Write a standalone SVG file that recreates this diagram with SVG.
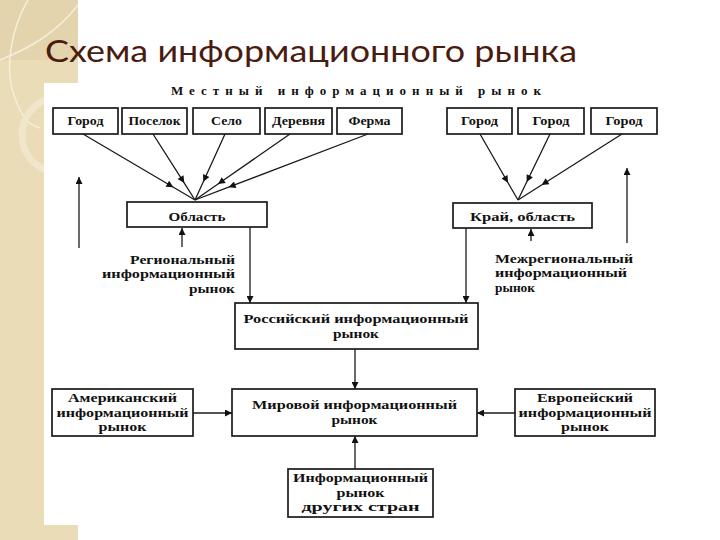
<svg xmlns="http://www.w3.org/2000/svg" width="720" height="540" viewBox="0 0 720 540">
<defs>
<style>
.bx{fill:#fff;stroke:#1a1a1a;stroke-width:1.7}
.ln{fill:none;stroke:#1a1a1a;stroke-width:1.3}
.t{font-family:"Liberation Serif","DejaVu Serif",serif;font-weight:bold;font-size:13px;fill:#111}
.s{font-family:"Liberation Serif","DejaVu Serif",serif;font-weight:bold;font-size:11.5px;fill:#111}
.h{font-family:"Liberation Serif","DejaVu Serif",serif;font-weight:bold;font-size:13px;fill:#111}
.m{text-anchor:middle}
.e{text-anchor:end}
.deco{fill:none;stroke:#f4eedb;stroke-width:1.5}
</style>
<marker id="ah" viewBox="0 0 10 10" refX="10" refY="5" markerWidth="9" markerHeight="7" markerUnits="userSpaceOnUse" orient="auto">
<path d="M0,0 L10,5 L0,10 z" fill="#111"/>
</marker>
</defs>
<rect width="720" height="540" fill="#fff"/>
<g id="background">
<rect x="0" y="0" width="78" height="540" fill="#e9dcb7"/>
<rect x="0" y="0" width="78" height="60" fill="#e3d4ad"/>
<path class="deco" d="M28,0 C10,30 5,70 14,95 C22,120 30,125 40,128"/>
<path class="deco" d="M0,60 C25,50 55,35 78,5"/>
<circle cx="60" cy="135" r="38" fill="none" stroke="#efe6cc" stroke-width="7"/>
<rect x="44" y="83" width="630" height="442" fill="#fff"/>
</g>
<text x="45" y="62" font-family="Lato,'Open Sans',sans-serif" font-size="31" fill="#4a1c10" textLength="532" lengthAdjust="spacingAndGlyphs">Схема информационного рынка</text>
<text class="h m" x="356" y="95" textLength="370" lengthAdjust="spacing">Местный информационный рынок</text>

<g id="n-gorod1"><rect class="bx" x="53" y="108" width="65" height="26"/><text class="s m" x="85.5" y="125" textLength="36" lengthAdjust="spacingAndGlyphs">Город</text></g>
<g id="n-poselok"><rect class="bx" x="122" y="108" width="65" height="26"/><text class="s m" x="154.5" y="125" textLength="52" lengthAdjust="spacingAndGlyphs">Поселок</text></g>
<g id="n-selo"><rect class="bx" x="193" y="108" width="67" height="26"/><text class="s m" x="226.5" y="125" textLength="31" lengthAdjust="spacingAndGlyphs">Село</text></g>
<g id="n-derevnya"><rect class="bx" x="265" y="108" width="67" height="26"/><text class="s m" x="298.5" y="125" textLength="53" lengthAdjust="spacingAndGlyphs">Деревня</text></g>
<g id="n-ferma"><rect class="bx" x="337" y="108" width="65" height="26"/><text class="s m" x="369.5" y="125" textLength="42" lengthAdjust="spacingAndGlyphs">Ферма</text></g>
<g id="n-gorod2"><rect class="bx" x="447" y="108" width="65" height="26"/><text class="s m" x="479.5" y="125" textLength="37" lengthAdjust="spacingAndGlyphs">Город</text></g>
<g id="n-gorod3"><rect class="bx" x="518" y="108" width="66" height="26"/><text class="s m" x="551" y="125" textLength="37" lengthAdjust="spacingAndGlyphs">Город</text></g>
<g id="n-gorod4"><rect class="bx" x="591" y="108" width="66" height="26"/><text class="s m" x="624" y="125" textLength="37" lengthAdjust="spacingAndGlyphs">Город</text></g>

<g id="n-oblast"><rect class="bx" x="127" y="202" width="140" height="25"/><text class="t m" x="197" y="221" textLength="57" lengthAdjust="spacingAndGlyphs">Область</text></g>
<g id="n-krai"><rect class="bx" x="453" y="203" width="139" height="25"/><text class="t m" x="522.5" y="221" textLength="105" lengthAdjust="spacingAndGlyphs">Край, область</text></g>

<g id="n-regional">
<text class="t e" x="235" y="264" textLength="105" lengthAdjust="spacingAndGlyphs">Региональный</text>
<text class="t e" x="235" y="278" textLength="133" lengthAdjust="spacingAndGlyphs">информационный</text>
<text class="t e" x="235" y="293" textLength="46" lengthAdjust="spacingAndGlyphs">рынок</text>
</g>
<g id="n-mezhregional">
<text class="t" x="495" y="263" textLength="138" lengthAdjust="spacingAndGlyphs">Межрегиональный</text>
<text class="t" x="495" y="277" textLength="132" lengthAdjust="spacingAndGlyphs">информационный</text>
<text class="t" x="495" y="292" textLength="40" lengthAdjust="spacingAndGlyphs">рынок</text>
</g>

<g id="n-rossiysky"><rect class="bx" x="235" y="303" width="243" height="46"/>
<text class="t m" x="356" y="323" textLength="225" lengthAdjust="spacingAndGlyphs">Российский информационный</text>
<text class="t m" x="356" y="338" textLength="46" lengthAdjust="spacingAndGlyphs">рынок</text></g>

<g id="n-mirovoy"><rect class="bx" x="232" y="389" width="245" height="47"/>
<text class="t m" x="354.5" y="409" textLength="205" lengthAdjust="spacingAndGlyphs">Мировой информационный</text>
<text class="t m" x="354.5" y="424" textLength="46" lengthAdjust="spacingAndGlyphs">рынок</text></g>

<g id="n-amerikansky"><rect class="bx" x="52" y="389" width="141" height="47"/>
<text class="t m" x="122.5" y="402" textLength="109" lengthAdjust="spacingAndGlyphs">Американский</text>
<text class="t m" x="122.5" y="417" textLength="132" lengthAdjust="spacingAndGlyphs">информационный</text>
<text class="t m" x="122.5" y="431" textLength="48" lengthAdjust="spacingAndGlyphs">рынок</text></g>

<g id="n-evropeysky"><rect class="bx" x="515" y="389" width="140" height="47"/>
<text class="t m" x="585" y="402" textLength="96" lengthAdjust="spacingAndGlyphs">Европейский</text>
<text class="t m" x="585" y="417" textLength="133" lengthAdjust="spacingAndGlyphs">информационный</text>
<text class="t m" x="585" y="431" textLength="48" lengthAdjust="spacingAndGlyphs">рынок</text></g>

<g id="n-drugie"><rect class="bx" x="288" y="469" width="145" height="48"/>
<text class="t m" x="360.5" y="482" textLength="135" lengthAdjust="spacingAndGlyphs">Информационный</text>
<text class="t m" x="360.5" y="497" textLength="48" lengthAdjust="spacingAndGlyphs">рынок</text>
<text class="t m" x="360.5" y="511" textLength="118" lengthAdjust="spacingAndGlyphs">других стран</text></g>

<g id="connectors">
<polyline class="ln" marker-mid="url(#ah)" points="83,134 173.4,187.3 195,200"/>
<polyline class="ln" marker-mid="url(#ah)" points="153,134 184.3,183.1 195,200"/>
<polyline class="ln" marker-mid="url(#ah)" points="225,134 203.3,181.8 195,200"/>
<polyline class="ln" marker-mid="url(#ah)" points="290,134 218,184 195,200"/>
<polyline class="ln" marker-mid="url(#ah)" points="368,134 228.6,187.2 195,200"/>
<polyline class="ln" marker-mid="url(#ah)" points="480,134 508,182.7 518,200"/>
<polyline class="ln" marker-mid="url(#ah)" points="550,134 526.7,182 518,200"/>
<polyline class="ln" marker-mid="url(#ah)" points="622,134 541.6,185 518,200"/>
<line class="ln" marker-end="url(#ah)" x1="79" y1="248" x2="79" y2="177"/>
<line class="ln" marker-end="url(#ah)" x1="627" y1="243" x2="627" y2="168"/>
<line class="ln" marker-end="url(#ah)" x1="182" y1="247" x2="182" y2="228"/>
<line class="ln" marker-end="url(#ah)" x1="531" y1="241" x2="531" y2="229"/>
<line class="ln" marker-end="url(#ah)" x1="250" y1="227" x2="250" y2="303"/>
<line class="ln" marker-end="url(#ah)" x1="466" y1="228" x2="466" y2="303"/>
<line class="ln" marker-end="url(#ah)" x1="355" y1="349" x2="355" y2="389"/>
<line class="ln" marker-end="url(#ah)" x1="193" y1="413" x2="232" y2="413"/>
<line class="ln" marker-end="url(#ah)" x1="515" y1="413" x2="477" y2="413"/>
<line class="ln" marker-end="url(#ah)" x1="355" y1="469" x2="355" y2="436"/>
</g>
</svg>
